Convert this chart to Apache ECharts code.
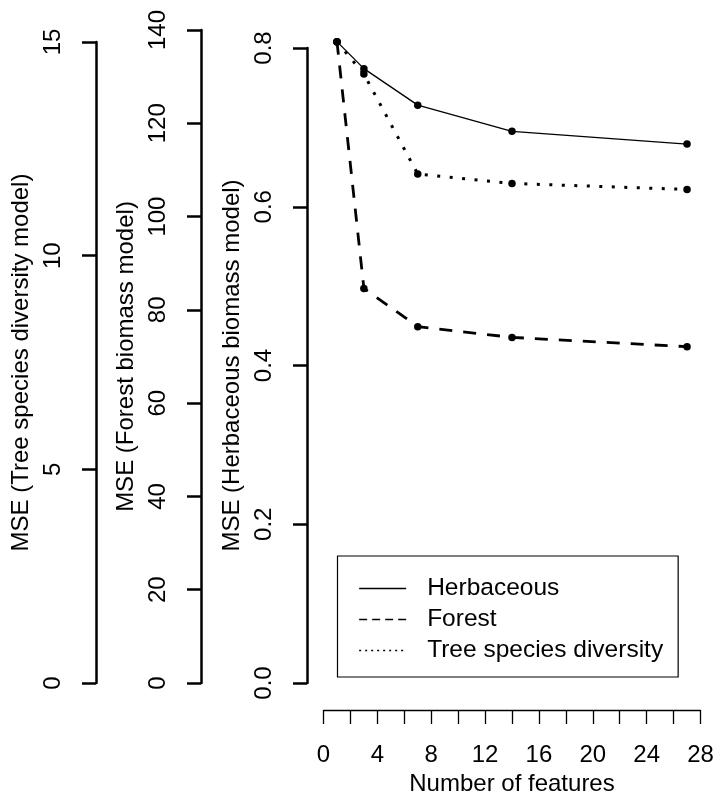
<!DOCTYPE html>
<html>
<head>
<meta charset="utf-8">
<script src="https://cdn.jsdelivr.net/npm/echarts@6/dist/echarts.min.js"></script>
<style>
html,body{margin:0;padding:0;background:#fff;}
#chart{width:715px;height:798px;}
</style>
</head>
<body>
<div id="chart"></div>
<script>
// Data
var features = [1, 3, 7, 14, 27];
var herbaceousMSE = [0.808, 0.774, 0.728, 0.695, 0.679];
var forestMSE = [137.5, 84.6, 76.4, 74.1, 72.1];
var treeDiversityMSE = [15.0, 14.25, 11.91, 11.69, 11.55];
var seriesNames = ['Herbaceous', 'Forest', 'Tree species diversity'];
var axisNames = ['MSE (Herbaceous biomass model)', 'MSE (Forest biomass model)', 'MSE (Tree species diversity model)'];
var xAxisName = 'Number of features';

function pairs(xs, ys) { return xs.map(function (x, i) { return [x, ys[i]]; }); }

var FONT = "'Liberation Sans', Arial, sans-serif";
var FS = 24;
var GL = 323.5, GR = 14.5, GB = 115;

function yAxisDef(gridIndex, max, interval, offset, name, fmt) {
  return {
    type: 'value', gridIndex: gridIndex, min: 0, max: max, interval: interval,
    position: 'left', offset: offset,
    axisLine: { show: true, onZero: false, lineStyle: { color: '#000', width: 2.5 } },
    axisTick: { show: true, inside: false, length: 14, lineStyle: { color: '#000', width: 2.5 } },
    axisLabel: { rotate: 90, margin: 31, color: '#000', fontSize: FS, fontFamily: FONT, formatter: fmt },
    splitLine: { show: false },
    name: name, nameLocation: 'middle', nameGap: 61, nameRotate: 90,
    nameTextStyle: { color: '#000', fontSize: FS, fontFamily: FONT }
  };
}

var chart = echarts.init(document.getElementById('chart'), null, { renderer: 'canvas' });
chart.setOption({
  animation: false,
  backgroundColor: '#fff',
  grid: [
    { left: GL, right: GR, top: 48, bottom: GB, containLabel: false, outerBoundsMode: 'none' },
    { left: GL, right: GR, top: 30, bottom: GB, containLabel: false, outerBoundsMode: 'none' },
    { left: GL, right: GR, top: 42, bottom: GB, containLabel: false, outerBoundsMode: 'none' }
  ],
  xAxis: [
    {
      type: 'value', gridIndex: 0, min: 0, max: 28, interval: 2, offset: 27, position: 'bottom',
      axisLine: { show: true, onZero: false, lineStyle: { color: '#000', width: 1.3 } },
      axisTick: { show: true, inside: false, length: 14, lineStyle: { color: '#000', width: 1.3 } },
      axisLabel: { margin: 33, color: '#000', fontSize: FS, fontFamily: FONT,
        formatter: function (v) { return v % 4 === 0 ? String(v) : ''; } },
      splitLine: { show: false },
      name: xAxisName, nameLocation: 'middle', nameGap: 62,
      nameTextStyle: { color: '#000', fontSize: FS, fontFamily: FONT }
    },
    { type: 'value', gridIndex: 1, min: 0, max: 28, show: false },
    { type: 'value', gridIndex: 2, min: 0, max: 28, show: false }
  ],
  yAxis: [
    yAxisDef(0, 0.8, 0.2, 16.5, axisNames[0], function (v) { return v.toFixed(1); }),
    yAxisDef(1, 140, 20, 122.5, axisNames[1], function (v) { return String(v); }),
    yAxisDef(2, 15, 5, 227.5, axisNames[2], function (v) { return String(v); })
  ],
  legend: {
    orient: 'vertical', left: 337.5, top: 556,
    padding: [20, 15, 14, 21],
    itemGap: 6, itemWidth: 47, itemHeight: 24,
    borderColor: '#000', borderWidth: 1.2,
    itemStyle: { opacity: 0 },
    textStyle: { color: '#000', fontSize: 24.5, fontFamily: FONT, padding: [0, 0, 0, 16] },
    data: [
      { name: seriesNames[0], lineStyle: { width: 1.3, type: 'solid' } },
      { name: seriesNames[1], lineStyle: { width: 1.3, type: [8, 5] } },
      { name: seriesNames[2], lineStyle: { width: 1.3, type: [2, 4] } }
    ]
  },
  series: [
    {
      name: seriesNames[0], type: 'line', xAxisIndex: 0, yAxisIndex: 0, clip: false,
      data: pairs(features, herbaceousMSE),
      symbol: 'circle', symbolSize: 7.5, itemStyle: { color: '#000' },
      lineStyle: { color: '#000', width: 1.3, type: 'solid' }, z: 3
    },
    {
      name: seriesNames[1], type: 'line', xAxisIndex: 1, yAxisIndex: 1, clip: false,
      data: pairs(features, forestMSE),
      symbol: 'circle', symbolSize: 7.5, itemStyle: { color: '#000' },
      lineStyle: { color: '#000', width: 2.8, type: [13, 11], cap: 'butt' }, z: 3
    },
    {
      name: seriesNames[2], type: 'line', xAxisIndex: 2, yAxisIndex: 2, clip: false,
      data: pairs(features, treeDiversityMSE),
      symbol: 'circle', symbolSize: 7.5, itemStyle: { color: '#000' },
      lineStyle: { color: '#000', width: 3, type: [3, 9.5], cap: 'butt' }, z: 3
    }
  ]
});
</script>
</body>
</html>
